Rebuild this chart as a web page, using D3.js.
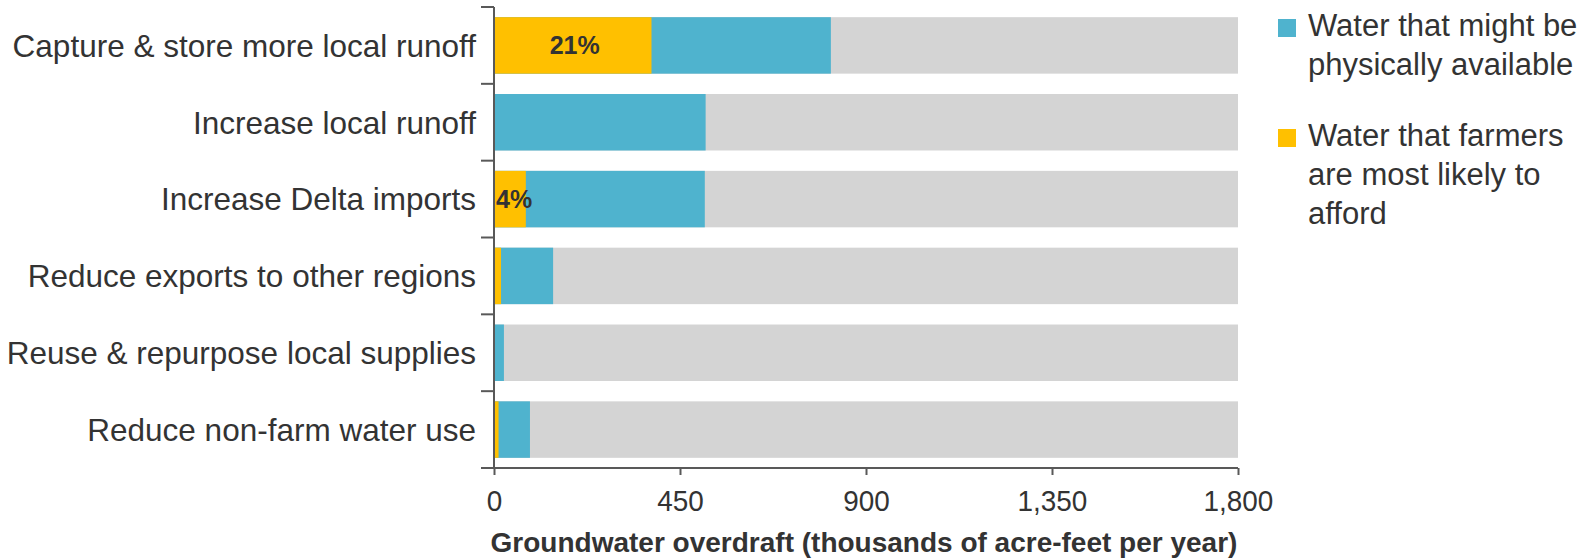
<!DOCTYPE html>
<html>
<head>
<meta charset="utf-8">
<script src="https://cdn.jsdelivr.net/npm/d3@7"></script>
<style>
  body { margin: 0; background: #fff; }
  svg { display: block; font-family: "Liberation Sans", Arial, sans-serif; }
</style>
</head>
<body>
<svg id="chart" width="1593" height="559"></svg>
<script>
// chart data
let categories = [
    "Capture & store more local runoff",
    "Increase local runoff",
    "Increase Delta imports",
    "Reduce exports to other regions",
    "Reuse & repurpose local supplies",
    "Reduce non-farm water use"
];
let available = [815, 512, 510, 143, 24, 87];
let affordable = [381, 0, 77, 17, 0, 11];
let shareLabels = ["21%", "", "4%", "", "", ""];
let overdraft = 1800;
let xTicks = [0, 450, 900, 1350, 1800];
let legendItems = [
    {lines: ["Water that might be", "physically available"], color: "#4fb3ce"},
    {lines: ["Water that farmers", "are most likely to", "afford"], color: "#ffc000"}
];

let svg = d3.select("#chart");
let axisColor = "#595959";
let textColor = "#333";

let x = d3.scaleLinear().domain([0, 1800]).range([494, 1238]);
let y = d3.scaleBand().domain(categories).range([7, 468])
    .paddingInner(0.265).paddingOuter(0.1325);

let rows = categories.map(function(c, i) {
    return {cat: c, avail: available[i], afford: affordable[i], label: shareLabels[i]};
});

let bars = svg.append("g").attr("class", "bars");

// grey: total overdraft
bars.selectAll("rect.total")
    .data(rows)
    .enter()
    .append("rect")
    .attr("class", "total")
    .attr("x", x(0) + 1)
    .attr("y", d => y(d.cat))
    .attr("width", x(overdraft) - x(0) - 1)
    .attr("height", y.bandwidth())
    .attr("fill", "#d4d4d4");

bars.selectAll("rect.avail")
    .data(rows)
    .enter()
    .append("rect")
    .attr("class", "avail")
    .attr("x", x(0) + 1)
    .attr("y", d => y(d.cat))
    .attr("width", d => Math.max(0, x(d.avail) - x(0) - 1))
    .attr("height", y.bandwidth())
    .attr("fill", "#4fb3ce");

bars.selectAll("rect.afford")
    .data(rows.filter(d => d.afford > 0))
    .enter()
    .append("rect")
    .attr("class", "afford")
    .attr("x", x(0) + 1)
    .attr("y", d => y(d.cat))
    .attr("width", d => Math.max(0, x(d.afford) - x(0) - 1))
    .attr("height", y.bandwidth())
    .attr("fill", "#ffc000");

// share labels: centered in the bar when it fits, else from the left
bars.selectAll("text.share")
    .data(rows.filter(d => d.label !== ""))
    .enter()
    .append("text")
    .attr("class", "share")
    .attr("x", d => (x(d.afford) - x(0) > 60) ? (x(0) + x(d.afford)) / 2 + 2 : x(0) + 2)
    .attr("y", d => y(d.cat) + y.bandwidth() / 2)
    .attr("dy", "0.36em")
    .attr("text-anchor", d => (x(d.afford) - x(0) > 60) ? "middle" : "start")
    .attr("font-size", "25px")
    .attr("font-weight", "bold")
    .attr("fill", textColor)
    .text(d => d.label);

// y axis with ticks at band boundaries
let yAxis = svg.append("g").attr("class", "y-axis");
let step = y.step();
let bounds = d3.range(categories.length + 1).map(i => 7 + i * step);
yAxis.append("line")
    .attr("x1", x(0)).attr("x2", x(0))
    .attr("y1", 7).attr("y2", 468)
    .attr("stroke", axisColor).attr("stroke-width", 2);
yAxis.selectAll("line.tick")
    .data(bounds)
    .enter()
    .append("line")
    .attr("class", "tick")
    .attr("x1", x(0) - 13).attr("x2", x(0))
    .attr("y1", d => d).attr("y2", d => d)
    .attr("stroke", axisColor).attr("stroke-width", 2);
yAxis.selectAll("text")
    .data(categories)
    .enter()
    .append("text")
    .attr("x", 476)
    .attr("y", d => y(d) + y.bandwidth() / 2)
    .attr("dy", "0.36em")
    .attr("text-anchor", "end")
    .attr("font-size", "31.5px")
    .attr("fill", textColor)
    .text(d => d);

// x axis
let xAxis = svg.append("g")
    .attr("class", "x-axis")
    .attr("transform", "translate(0,468)")
    .call(d3.axisBottom(x).tickValues(xTicks).tickSize(7).tickPadding(15)
        .tickFormat(d3.format(",")));
xAxis.select(".domain").remove();
xAxis.append("line")
    .attr("x1", x(0) - 13).attr("x2", x(1800))
    .attr("stroke", axisColor).attr("stroke-width", 2);
xAxis.selectAll(".tick line").attr("stroke", axisColor).attr("stroke-width", 2);
xAxis.selectAll(".tick text")
    .attr("font-size", "30px")
    .attr("font-family", "'Liberation Sans', Arial, sans-serif")
    .attr("transform", "scale(0.93,1)")
    .attr("fill", textColor);

svg.append("text")
    .attr("x", (x(0) + x(1800)) / 2 - 2)
    .attr("y", 552)
    .attr("text-anchor", "middle")
    .attr("font-size", "28px")
    .attr("font-weight", "bold")
    .attr("fill", textColor)
    .text("Groundwater overdraft (thousands of acre-feet per year)");

// legend
let legendTop = [36, 146];
let legend = svg.append("g").attr("class", "legend");
legendItems.forEach(function(item, i) {
    let base = legendTop[i];
    legend.append("rect")
        .attr("x", 1278).attr("y", base - 17)
        .attr("width", 18).attr("height", 18)
        .attr("fill", item.color);
    let t = legend.append("text")
        .attr("x", 1308).attr("y", base)
        .attr("font-size", "31px")
        .attr("fill", textColor);
    item.lines.forEach(function(line, j) {
        t.append("tspan")
            .attr("x", 1308)
            .attr("dy", j === 0 ? 0 : 39)
            .text(line);
    });
});
</script>
</body>
</html>
